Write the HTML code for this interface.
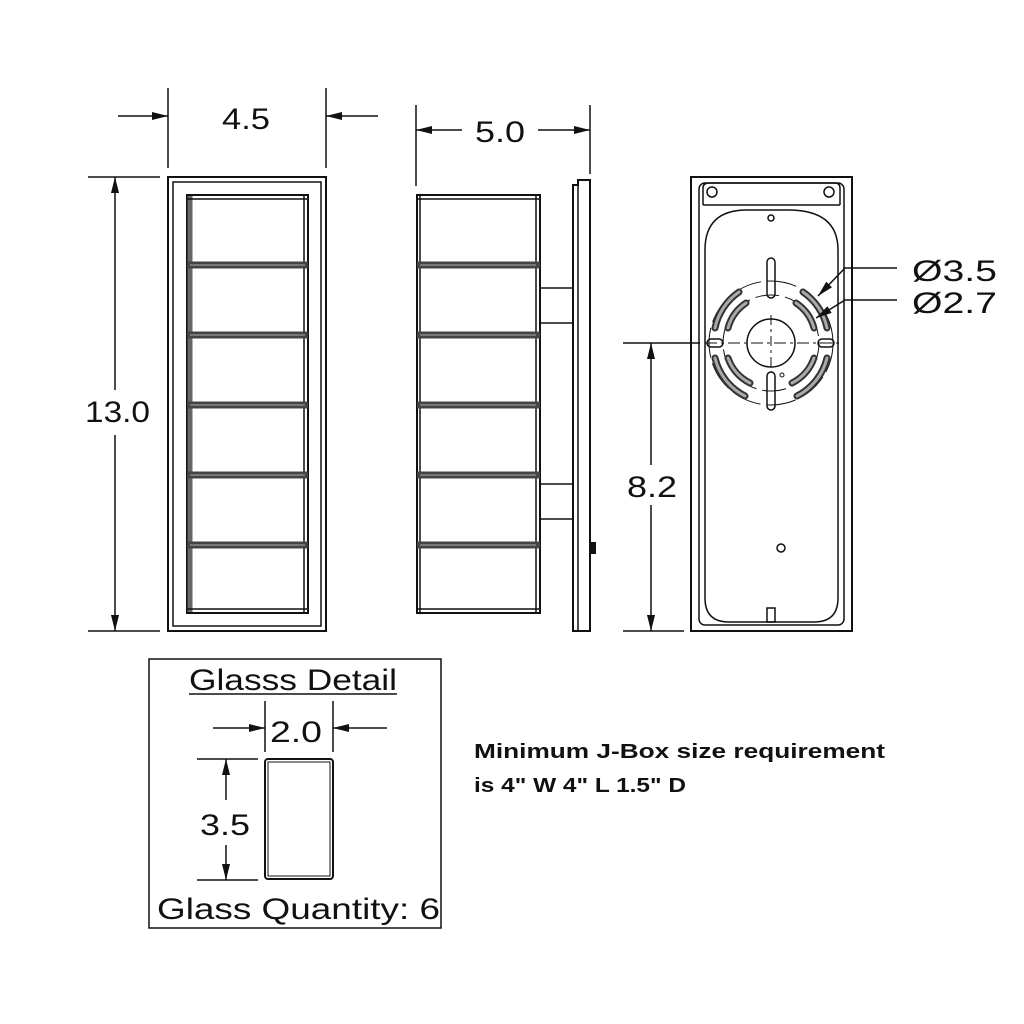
<!DOCTYPE html>
<html><head><meta charset="utf-8"><style>
html,body{margin:0;padding:0;background:#fff}
svg{display:block}
text{font-family:"Liberation Sans","DejaVu Sans",sans-serif;fill:#111}
</style></head><body>
<svg width="1024" height="1024" viewBox="0 0 1024 1024" xmlns="http://www.w3.org/2000/svg">
<defs>
<marker id="a" viewBox="0 0 16 8" refX="16" refY="4" markerWidth="16" markerHeight="8" markerUnits="userSpaceOnUse" orient="auto"><path d="M0,0 L16,4 L0,8 z" fill="#111"/></marker>
</defs>
<g stroke="#111" fill="none" stroke-width="2">
<!-- FRONT VIEW -->
<rect x="168" y="177" width="158" height="454"/>
<rect x="173" y="182" width="148" height="444" stroke-width="1.5"/>
<rect x="187" y="195" width="121" height="418" stroke-width="2"/>
<line x1="190" y1="196" x2="190" y2="612" stroke="#666" stroke-width="5"/>
<line x1="304" y1="196" x2="304" y2="612" stroke-width="1.5"/>
<g stroke="#444" stroke-width="7">
<line x1="187" y1="265" x2="308" y2="265"/><line x1="187" y1="335" x2="308" y2="335"/>
<line x1="187" y1="405" x2="308" y2="405"/><line x1="187" y1="475" x2="308" y2="475"/>
<line x1="187" y1="545" x2="308" y2="545"/>
</g>
<g stroke="#888" stroke-width="1.5">
<line x1="190" y1="265" x2="305" y2="265"/><line x1="190" y1="335" x2="305" y2="335"/>
<line x1="190" y1="405" x2="305" y2="405"/><line x1="190" y1="475" x2="305" y2="475"/>
<line x1="190" y1="545" x2="305" y2="545"/>
</g>
<line x1="187" y1="199" x2="308" y2="199" stroke-width="1.5"/>
<line x1="187" y1="609" x2="308" y2="609" stroke-width="1.5"/>
<line x1="168" y1="88" x2="168" y2="168" stroke-width="1.5"/>
<line x1="326" y1="88" x2="326" y2="168" stroke-width="1.5"/>
<line x1="118" y1="116" x2="168" y2="116" stroke-width="1.5" marker-end="url(#a)"/>
<line x1="378" y1="116" x2="326" y2="116" stroke-width="1.5" marker-end="url(#a)"/>
<line x1="88" y1="177" x2="160" y2="177" stroke-width="1.5"/>
<line x1="88" y1="631" x2="160" y2="631" stroke-width="1.5"/>
<line x1="115" y1="390" x2="115" y2="177" stroke-width="1.5" marker-end="url(#a)"/>
<line x1="115" y1="435" x2="115" y2="631" stroke-width="1.5" marker-end="url(#a)"/>

<!-- SIDE VIEW -->
<rect x="417" y="195" width="123" height="418"/>
<line x1="420" y1="196" x2="420" y2="612" stroke-width="1.5"/>
<line x1="536" y1="196" x2="536" y2="612" stroke-width="1.5"/>
<g stroke="#444" stroke-width="7">
<line x1="417" y1="265" x2="540" y2="265"/><line x1="417" y1="335" x2="540" y2="335"/>
<line x1="417" y1="405" x2="540" y2="405"/><line x1="417" y1="475" x2="540" y2="475"/>
<line x1="417" y1="545" x2="540" y2="545"/>
</g>
<g stroke="#888" stroke-width="1.5">
<line x1="420" y1="265" x2="536" y2="265"/><line x1="420" y1="335" x2="536" y2="335"/>
<line x1="420" y1="405" x2="536" y2="405"/><line x1="420" y1="475" x2="536" y2="475"/>
<line x1="420" y1="545" x2="536" y2="545"/>
</g>
<line x1="417" y1="199" x2="540" y2="199" stroke-width="1.5"/>
<line x1="417" y1="609" x2="540" y2="609" stroke-width="1.5"/>
<path d="M578,180 L590,180 L590,631 L573,631 L573,185 L578,185 Z"/>
<line x1="578" y1="185" x2="578" y2="631" stroke-width="1.5"/>
<line x1="540" y1="288" x2="573" y2="288" stroke-width="1.5"/>
<line x1="540" y1="323" x2="573" y2="323" stroke-width="1.5"/>
<line x1="540" y1="484" x2="573" y2="484" stroke-width="1.5"/>
<line x1="540" y1="519" x2="573" y2="519" stroke-width="1.5"/>
<rect x="590" y="543" width="5" height="10" fill="#111"/>
<line x1="416" y1="105" x2="416" y2="186" stroke-width="1.5"/>
<line x1="590" y1="105" x2="590" y2="174" stroke-width="1.5"/>
<line x1="462" y1="130" x2="416" y2="130" stroke-width="1.5" marker-end="url(#a)"/>
<line x1="538" y1="130" x2="590" y2="130" stroke-width="1.5" marker-end="url(#a)"/>

<!-- BACK VIEW -->
<rect x="691" y="177" width="161" height="454"/>
<rect x="699" y="183" width="145" height="442" rx="6" stroke-width="1.5"/>
<path d="M703,205 L703,188 Q703,183 709,183 L835,183 Q840,183 840,188 L840,205" stroke-width="1.5"/>
<line x1="703" y1="205" x2="840" y2="205" stroke-width="1.5"/>
<circle cx="712" cy="192" r="5" stroke-width="1.5"/><circle cx="829" cy="192" r="5" stroke-width="1.5"/>
<path d="M747,210 L788,210 Q838,210 838,250 L838,598 Q838,622 814,622 L729,622 Q705,622 705,598 L705,250 Q705,210 747,210 Z" stroke-width="1.5"/>
<circle cx="771" cy="218" r="3" stroke-width="1.5"/>
<circle cx="781" cy="548" r="4" stroke-width="1.5"/>
<rect x="767" y="608" width="8" height="14" stroke-width="1.5"/>
<circle cx="771" cy="343" r="62" stroke-width="1" stroke-dasharray="30 6"/>
<circle cx="771" cy="343" r="48" stroke-width="1" stroke-dasharray="24 6"/>
<circle cx="771" cy="343" r="24" stroke-width="1.5"/>
<g stroke-width="7" stroke="#333" stroke-linecap="round" fill="none">
<path d="M739,292 A58,58 0 0 0 715,328"/><path d="M803,292 A58,58 0 0 1 827,328"/>
<path d="M715,358 A58,58 0 0 0 745,396"/><path d="M827,358 A58,58 0 0 1 797,396"/>
<path d="M746,303 A44,44 0 0 0 728,328"/><path d="M796,303 A44,44 0 0 1 814,328"/>
<path d="M728,358 A44,44 0 0 0 750,383"/><path d="M814,358 A44,44 0 0 1 792,383"/>
</g>
<g stroke-width="3" stroke="#aaa" stroke-linecap="round" fill="none">
<path d="M739,292 A58,58 0 0 0 715,328"/><path d="M803,292 A58,58 0 0 1 827,328"/>
<path d="M715,358 A58,58 0 0 0 745,396"/><path d="M827,358 A58,58 0 0 1 797,396"/>
<path d="M746,303 A44,44 0 0 0 728,328"/><path d="M796,303 A44,44 0 0 1 814,328"/>
<path d="M728,358 A44,44 0 0 0 750,383"/><path d="M814,358 A44,44 0 0 1 792,383"/>
</g>
<rect x="767" y="258" width="8" height="40" rx="4" stroke-width="1.5"/>
<rect x="767" y="372" width="8" height="38" rx="4" stroke-width="1.5"/>
<rect x="707" y="339" width="16" height="8" rx="4" stroke-width="1.5"/>
<rect x="818" y="339" width="16" height="8" rx="4" stroke-width="1.5"/>
<circle cx="782" cy="375" r="2" stroke-width="1"/>
<line x1="623" y1="343" x2="700" y2="343" stroke-width="1.5"/>
<line x1="705" y1="343" x2="840" y2="343" stroke-width="1" stroke-dasharray="12 4 3 4"/>
<line x1="771" y1="315" x2="771" y2="372" stroke-width="1" stroke-dasharray="10 4 3 4"/>
<line x1="623" y1="631" x2="684" y2="631" stroke-width="1.5"/>
<line x1="651" y1="465" x2="651" y2="343" stroke-width="1.5" marker-end="url(#a)"/>
<line x1="651" y1="505" x2="651" y2="631" stroke-width="1.5" marker-end="url(#a)"/>
<polyline points="897,268 845,268 818,296" stroke-width="1.5" marker-end="url(#a)" fill="none"/>
<polyline points="897,300 845,300 816,318" stroke-width="1.5" marker-end="url(#a)" fill="none"/>

<!-- GLASS DETAIL -->
<rect x="149" y="659" width="292" height="269" stroke-width="1.5"/>
<line x1="189" y1="694" x2="397" y2="694" stroke-width="1.5"/>
<line x1="265" y1="701" x2="265" y2="752" stroke-width="1.5"/>
<line x1="333" y1="701" x2="333" y2="752" stroke-width="1.5"/>
<line x1="213" y1="728" x2="265" y2="728" stroke-width="1.5" marker-end="url(#a)"/>
<line x1="387" y1="728" x2="333" y2="728" stroke-width="1.5" marker-end="url(#a)"/>
<rect x="265" y="759" width="68" height="120" rx="3" stroke-width="2"/>
<rect x="268" y="762" width="62" height="114" stroke-width="1"/>
<line x1="197" y1="759" x2="258" y2="759" stroke-width="1.5"/>
<line x1="197" y1="880" x2="258" y2="880" stroke-width="1.5"/>
<line x1="226" y1="800" x2="226" y2="759" stroke-width="1.5" marker-end="url(#a)"/>
<line x1="226" y1="845" x2="226" y2="880" stroke-width="1.5" marker-end="url(#a)"/>
</g>
<g font-size="30">
<text x="222" y="129" textLength="48" lengthAdjust="spacingAndGlyphs">4.5</text>
<text x="475" y="142" textLength="50" lengthAdjust="spacingAndGlyphs">5.0</text>
<text x="85" y="422" textLength="65" lengthAdjust="spacingAndGlyphs">13.0</text>
<text x="627" y="497" textLength="50" lengthAdjust="spacingAndGlyphs">8.2</text>
<text x="912" y="281" textLength="85" lengthAdjust="spacingAndGlyphs">Ø3.5</text>
<text x="912" y="313" textLength="85" lengthAdjust="spacingAndGlyphs">Ø2.7</text>
<text x="189" y="690" textLength="208" lengthAdjust="spacingAndGlyphs">Glasss Detail</text>
<text x="270" y="742" textLength="52" lengthAdjust="spacingAndGlyphs">2.0</text>
<text x="200" y="835" textLength="50" lengthAdjust="spacingAndGlyphs">3.5</text>
<text x="157" y="919" textLength="283" lengthAdjust="spacingAndGlyphs">Glass Quantity: 6</text>
</g>
<g font-size="20" font-weight="bold">
<text x="474" y="758" textLength="411" lengthAdjust="spacingAndGlyphs">Minimum J-Box size requirement</text>
<text x="474" y="792" textLength="212" lengthAdjust="spacingAndGlyphs">is 4" W 4" L 1.5" D</text>
</g>
</svg>
</body></html>
